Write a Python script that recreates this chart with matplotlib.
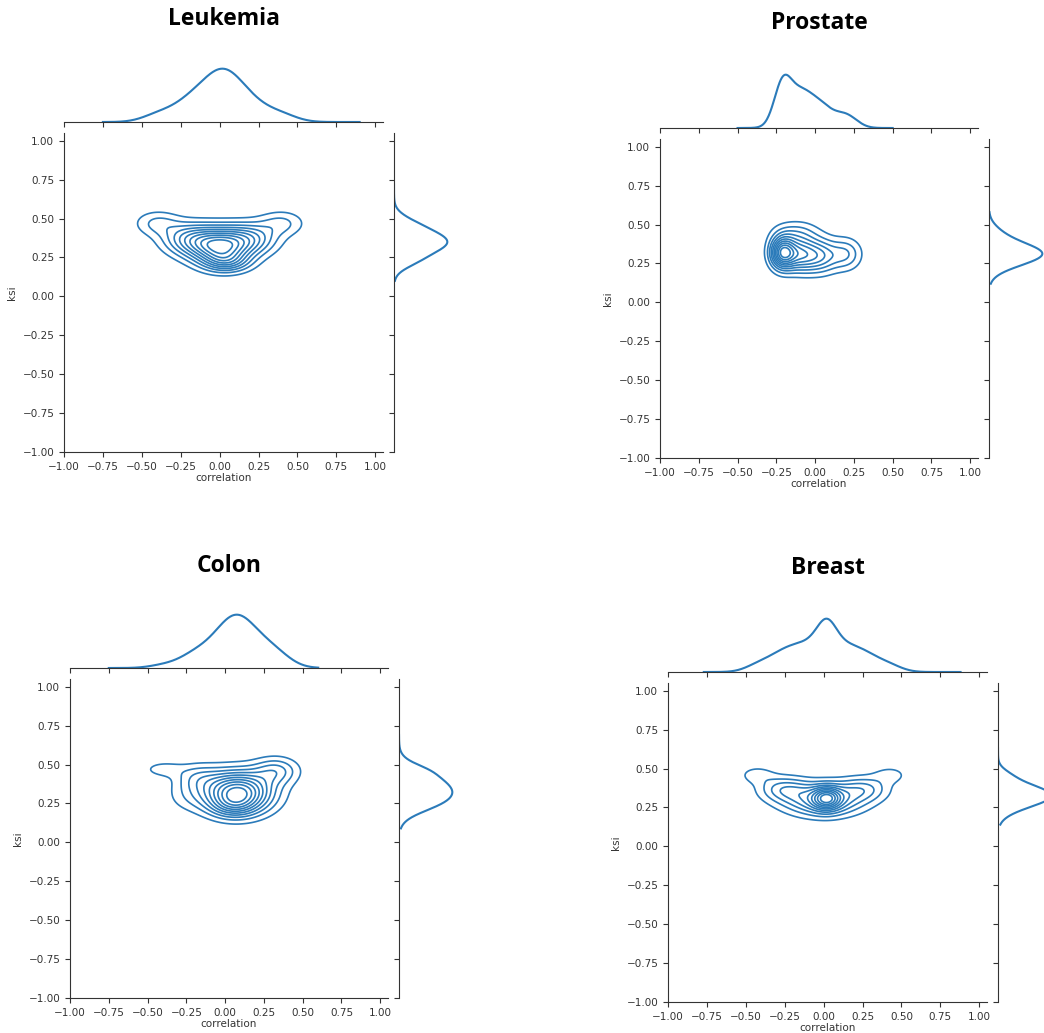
import matplotlib.pyplot as plt
import numpy as np

# figure size in pixels
W, H = 1044, 1033

titles = ['Leukemia', 'Prostate', 'Colon', 'Breast']

# gaussian blobs (centre, spread, weight)
leukemia_cx = [0.0, -0.20, 0.20, -0.40, 0.40, 0.05]
leukemia_cy = [0.32, 0.37, 0.37, 0.47, 0.47, 0.22]
leukemia_sx = [0.13, 0.12, 0.12, 0.10, 0.10, 0.10]
leukemia_sy = [0.08, 0.07, 0.07, 0.055, 0.055, 0.045]
leukemia_w = [0.40, 0.15, 0.15, 0.05, 0.05, 0.06]
leukemia_xrange = [-0.75, 0.90]
leukemia_yrange = [0.10, 0.72]

prostate_cx = [-0.21, -0.10, 0.03, 0.20, -0.12]
prostate_cy = [0.32, 0.31, 0.30, 0.31, 0.45]
prostate_sx = [0.055, 0.07, 0.08, 0.07, 0.10]
prostate_sy = [0.07, 0.075, 0.075, 0.07, 0.055]
prostate_w = [0.28, 0.22, 0.22, 0.11, 0.08]
prostate_xrange = [-0.50, 0.50]
prostate_yrange = [0.12, 0.58]

colon_cx = [0.08, 0.33, -0.18, -0.40, 0.05, -0.24]
colon_cy = [0.32, 0.46, 0.42, 0.47, 0.23, 0.30]
colon_sx = [0.15, 0.10, 0.10, 0.09, 0.10, 0.10]
colon_sy = [0.09, 0.06, 0.06, 0.035, 0.05, 0.07]
colon_w = [0.68, 0.09, 0.06, 0.022, 0.05, 0.04]
colon_xrange = [-0.75, 0.60]
colon_yrange = [0.09, 0.69]

breast_cx = [0.02, 0.0, -0.26, 0.26, -0.43, 0.43]
breast_cy = [0.31, 0.30, 0.37, 0.37, 0.46, 0.46]
breast_sx = [0.06, 0.17, 0.11, 0.11, 0.08, 0.08]
breast_sy = [0.05, 0.07, 0.055, 0.055, 0.04, 0.04]
breast_w = [0.10, 0.45, 0.12, 0.11, 0.03, 0.028]
breast_xrange = [-0.77, 0.88]
breast_yrange = [0.14, 0.63]

# main axes boxes in pixels: left, top, right, bottom
boxes = [(64, 133, 383, 452), (660, 139, 978, 458),
         (70, 679, 388, 998), (668, 683, 987, 1002)]
title_y = [19, 23, 566, 568]

params = [
    (leukemia_cx, leukemia_cy, leukemia_sx, leukemia_sy, leukemia_w, leukemia_xrange, leukemia_yrange),
    (prostate_cx, prostate_cy, prostate_sx, prostate_sy, prostate_w, prostate_xrange, prostate_yrange),
    (colon_cx, colon_cy, colon_sx, colon_sy, colon_w, colon_xrange, colon_yrange),
    (breast_cx, breast_cy, breast_sx, breast_sy, breast_w, breast_xrange, breast_yrange),
]


def gauss(v, m, s):
    return np.exp(-0.5 * ((v - m) / s) ** 2) / (s * np.sqrt(2 * np.pi))


def px_box(l, t, r, b):
    return [l / W, 1 - b / H, (r - l) / W, (b - t) / H]


fig = plt.figure(figsize=(W / 100, H / 100), dpi=100)
blue = '#2b7bba'
grey = '#333333'
ticks = np.arange(-1, 1.01, 0.25)
gap, marg = 11, 56

for title, (l, t, r, b), ty, (cx, cy, sx, sy, w, xr, yr) in zip(titles, boxes, title_y, params):
    ax = fig.add_axes(px_box(l, t, r, b))
    ax_top = fig.add_axes(px_box(l, t - gap - marg, r, t - gap), sharex=ax)
    ax_right = fig.add_axes(px_box(r + gap, t, r + gap + marg, b), sharey=ax)

    gx = np.linspace(-1, 1.05, 400)
    gy = np.linspace(-1, 1.05, 400)
    XX, YY = np.meshgrid(gx, gy)
    Z = sum(wk * gauss(XX, a, c) * gauss(YY, bb, d) for a, bb, c, d, wk in zip(cx, cy, sx, sy, w))
    ax.contour(XX, YY, Z, levels=np.linspace(0, Z.max(), 12)[1:-1], colors=blue, linewidths=1.2)

    mx = np.linspace(xr[0], xr[1], 300)
    dx = sum(wk * gauss(mx, a, c) for a, c, wk in zip(cx, sx, w))
    ax_top.plot(mx, dx, color=blue, lw=1.5)
    ax_top.set_ylim(0, dx.max() * 1.05)

    my = np.linspace(yr[0], yr[1], 300)
    dy = sum(wk * gauss(my, bb, d) for bb, d, wk in zip(cy, sy, w))
    ax_right.plot(dy, my, color=blue, lw=1.5)
    ax_right.set_xlim(0, dy.max() * 1.05)

    ax.set_xlim(-1, 1.05)
    ax.set_ylim(-1, 1.05)
    ax.set_xticks(ticks)
    ax.set_yticks(ticks)
    ax.tick_params(labelsize=7.5, colors=grey)
    ax.set_xlabel('correlation', fontsize=7.5, color=grey, labelpad=1)
    ax.set_ylabel('ksi', fontsize=7.5, color=grey)
    for s in ['top', 'right']:
        ax.spines[s].set_visible(False)

    for s in ['top', 'right', 'left']:
        ax_top.spines[s].set_visible(False)
    ax_top.tick_params(labelbottom=False, left=False, labelleft=False, colors=grey)

    for s in ['top', 'right', 'bottom']:
        ax_right.spines[s].set_visible(False)
    ax_right.tick_params(labelleft=False, bottom=False, labelbottom=False, colors=grey)

    for a in [ax, ax_top, ax_right]:
        for s in a.spines.values():
            s.set_color(grey)

    fig.text(((l + r) / 2) / W, 1 - ty / H, title, ha='center', va='center',
             fontsize=16.5, fontweight='bold', family='Open Sans')

fig.savefig('out.png', dpi=100)
